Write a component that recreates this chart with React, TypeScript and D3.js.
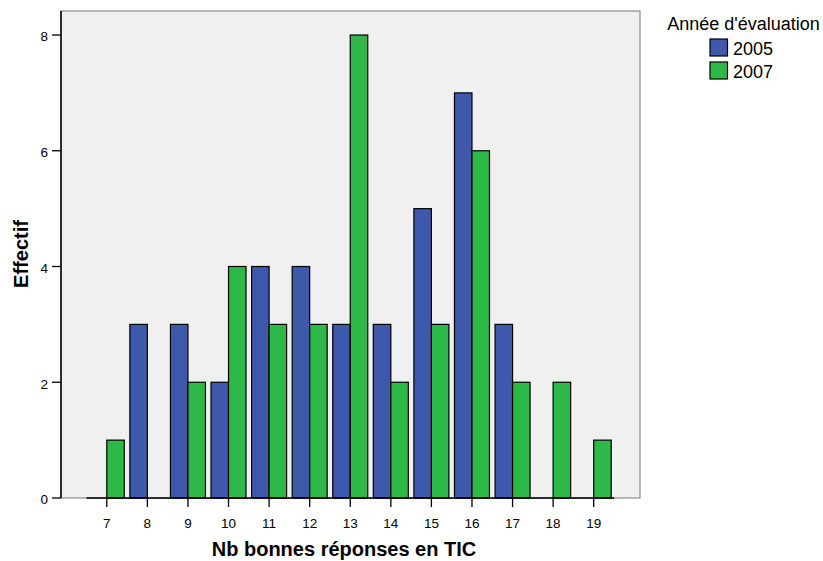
import React from "react";
import * as d3 from "d3";

const categories = ["7", "8", "9", "10", "11", "12", "13", "14", "15", "16", "17", "18", "19"];
const series2005 = [0, 3, 3, 2, 4, 4, 3, 3, 5, 7, 3, 0, 0];
const series2007 = [1, 0, 2, 4, 3, 3, 8, 2, 3, 6, 2, 2, 1];
const yTicks = [0, 2, 4, 6, 8];
const seriesNames = ["2005", "2007"];
const colors = ["#3E58AC", "#2EB848"];

const W = 823;
const H = 561;
const plot = { left: 61, right: 640, top: 11, bottom: 498 };
const font = "'Liberation Sans', Arial, sans-serif";

export default function App() {
  const x = d3
    .scaleBand<string>()
    .domain(categories)
    .range([86.5, 614]);
  const y = d3.scaleLinear().domain([0, 8.415]).range([plot.bottom, plot.top]);
  const barW = 17.5;
  const all = [series2005, series2007];

  return (
    <svg width={W} height={H} style={{ position: "absolute", left: 0, top: 0 }}>
      <rect x={0} y={0} width={W} height={H} fill="#fff" />
      <rect
        x={plot.left}
        y={plot.top}
        width={plot.right - plot.left}
        height={plot.bottom - plot.top}
        fill="#F0F0F0"
        stroke="#777"
        strokeWidth={1}
      />
      {all.map((vals, si) =>
        vals.map((v, i) => {
          const c = (x(categories[i]) as number) + x.bandwidth() / 2;
          const x0 = si === 0 ? c - barW : c;
          return (
            <rect
              key={`${si}-${i}`}
              x={x0}
              y={y(v)}
              width={barW}
              height={plot.bottom - y(v)}
              fill={colors[si]}
              stroke="#000"
              strokeWidth={1.2}
            />
          );
        })
      )}
      {/* y axis */}
      <line x1={plot.left} x2={plot.left} y1={plot.top} y2={plot.bottom} stroke="#000" strokeWidth={1.5} />
      {yTicks.map((t) => (
        <g key={t}>
          <line x1={plot.left - 9} x2={plot.left} y1={y(t)} y2={y(t)} stroke="#000" strokeWidth={1.3} />
          <text x={48} y={y(t) + 6.3} textAnchor="end" fontFamily={font} fontSize={13.5} fill="#000">
            {t}
          </text>
        </g>
      ))}
      {/* x axis */}
      <line x1={x.range()[0]} x2={x.range()[1]} y1={plot.bottom} y2={plot.bottom} stroke="#000" strokeWidth={1.5} />
      {categories.map((cat) => {
        const c = (x(cat) as number) + x.bandwidth() / 2;
        return (
          <g key={cat}>
            <line x1={c} x2={c} y1={plot.bottom} y2={plot.bottom + 9} stroke="#000" strokeWidth={1.3} />
            <text x={c} y={527.5} textAnchor="middle" fontFamily={font} fontSize={13.5} fill="#000">
              {cat}
            </text>
          </g>
        );
      })}
      <text x={344} y={555.5} textAnchor="middle" fontFamily={font} fontSize={20} fontWeight="bold" fill="#000">
        Nb bonnes réponses en TIC
      </text>
      <text
        transform={`translate(28,254) rotate(-90)`}
        textAnchor="middle"
        fontFamily={font}
        fontSize={20}
        fontWeight="bold"
        fill="#000"
      >
        Effectif
      </text>
      {/* legend */}
      <text x={743.5} y={30} textAnchor="middle" fontFamily={font} fontSize={18} fill="#000">
        Année d'évaluation
      </text>
      {seriesNames.map((s, i) => (
        <g key={s}>
          <rect x={710} y={39 + i * 23} width={17.5} height={17} fill={colors[i]} stroke="#000" strokeWidth={1.2} />
          <text x={733} y={55 + i * 23} fontFamily={font} fontSize={18} fill="#000">
            {s}
          </text>
        </g>
      ))}
    </svg>
  );
}
